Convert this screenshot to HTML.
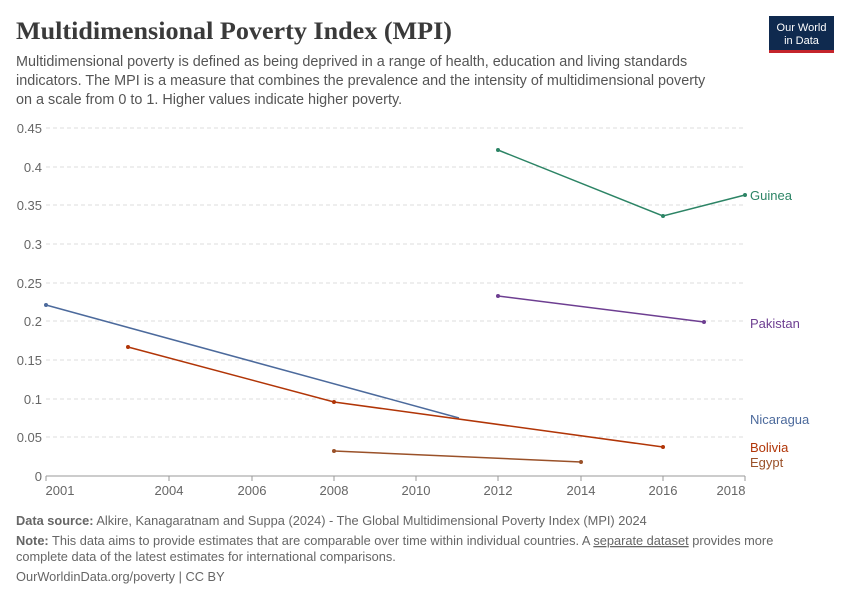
<!DOCTYPE html>
<html><head><meta charset="utf-8"><style>
body{margin:0;background:#fff;width:850px;height:600px;overflow:hidden;font-family:"Liberation Sans",sans-serif}
</style></head><body>
<svg width="850" height="600" viewBox="0 0 850 600" xmlns="http://www.w3.org/2000/svg">
<text x="16" y="39" font-family="Liberation Serif,serif" font-size="25" font-weight="bold" fill="#3a3a3a" textLength="436" lengthAdjust="spacingAndGlyphs">Multidimensional Poverty Index (MPI)</text>
<rect x="769" y="16" width="65" height="34" fill="#0f2a4f"/>
<rect x="769" y="50" width="65" height="3" fill="#c4242b"/>
<text x="801.5" y="31" text-anchor="middle" font-size="11" fill="#fff">Our World</text>
<text x="801.5" y="44" text-anchor="middle" font-size="11" fill="#fff">in Data</text>
<g font-size="14.4" fill="#555">
<text x="16" y="66">Multidimensional poverty is defined as being deprived in a range of health, education and living standards</text>
<text x="16" y="85">indicators. The MPI is a measure that combines the prevalence and the intensity of multidimensional poverty</text>
<text x="16" y="104">on a scale from 0 to 1. Higher values indicate higher poverty.</text>
</g>
<g stroke="#ddd" stroke-dasharray="4,3">
<line x1="46" x2="745" y1="128" y2="128"/><line x1="46" x2="745" y1="167" y2="167"/>
<line x1="46" x2="745" y1="205" y2="205"/><line x1="46" x2="745" y1="244" y2="244"/>
<line x1="46" x2="745" y1="283" y2="283"/><line x1="46" x2="745" y1="321" y2="321"/>
<line x1="46" x2="745" y1="360" y2="360"/><line x1="46" x2="745" y1="399" y2="399"/>
<line x1="46" x2="745" y1="437" y2="437"/>
</g>
<line x1="46" x2="745" y1="476" y2="476" stroke="#999"/>
<g font-size="13" fill="#666" text-anchor="end">
<text x="42" y="133">0.45</text><text x="42" y="172">0.4</text><text x="42" y="210">0.35</text>
<text x="42" y="249">0.3</text><text x="42" y="288">0.25</text><text x="42" y="326">0.2</text>
<text x="42" y="365">0.15</text><text x="42" y="404">0.1</text><text x="42" y="442">0.05</text>
<text x="42" y="481">0</text>
</g>
<g stroke="#999"><line x1="46" x2="46" y1="476" y2="481"/><line x1="169" x2="169" y1="476" y2="481"/><line x1="252" x2="252" y1="476" y2="481"/><line x1="334" x2="334" y1="476" y2="481"/><line x1="416" x2="416" y1="476" y2="481"/><line x1="498" x2="498" y1="476" y2="481"/><line x1="581" x2="581" y1="476" y2="481"/><line x1="663" x2="663" y1="476" y2="481"/><line x1="745" x2="745" y1="476" y2="481"/></g>
<g font-size="13" fill="#666" text-anchor="middle">
<text x="60" y="495">2001</text><text x="169" y="495">2004</text><text x="252" y="495">2006</text>
<text x="334" y="495">2008</text><text x="416" y="495">2010</text><text x="498" y="495">2012</text>
<text x="581" y="495">2014</text><text x="663" y="495">2016</text><text x="731" y="495">2018</text>
</g>
<g fill="none" stroke-width="1.5">
<polyline points="498,150 663,216 745,195" stroke="#2c8465"/>
<polyline points="498,296 704,322" stroke="#6d3e91"/>
<polyline points="46,305 459,418" stroke="#4c6a9c"/>
<polyline points="128,347 334,402 663,447" stroke="#b13507"/>
<polyline points="334,451 581,462" stroke="#9a5129"/>
</g>
<g>
<circle cx="498" cy="150" r="2" fill="#2c8465"/><circle cx="663" cy="216" r="2" fill="#2c8465"/><circle cx="745" cy="195" r="2" fill="#2c8465"/>
<circle cx="498" cy="296" r="2" fill="#6d3e91"/><circle cx="704" cy="322" r="2" fill="#6d3e91"/>
<circle cx="46" cy="305" r="2" fill="#4c6a9c"/>
<circle cx="128" cy="347" r="2" fill="#b13507"/><circle cx="334" cy="402" r="2" fill="#b13507"/><circle cx="663" cy="447" r="2" fill="#b13507"/>
<circle cx="334" cy="451" r="2" fill="#9a5129"/><circle cx="581" cy="462" r="2" fill="#9a5129"/>
</g>
<g font-size="13">
<text x="750" y="200" fill="#2c8465">Guinea</text>
<text x="750" y="328" fill="#6d3e91">Pakistan</text>
<text x="750" y="424" fill="#4c6a9c">Nicaragua</text>
<text x="750" y="452" fill="#b13507">Bolivia</text>
<text x="750" y="467" fill="#9a5129">Egypt</text>
</g>
<g font-size="12.8" fill="#666">
<text x="16" y="525"><tspan font-weight="bold">Data source:</tspan> Alkire, Kanagaratnam and Suppa (2024) - The Global Multidimensional Poverty Index (MPI) 2024</text>
<text x="16" y="545"><tspan font-weight="bold">Note:</tspan> This data aims to provide estimates that are comparable over time within individual countries. A <tspan text-decoration="underline">separate dataset</tspan> provides more</text>
<text x="16" y="561">complete data of the latest estimates for international comparisons.</text>
<text x="16" y="581">OurWorldinData.org/poverty | CC BY</text>
</g>
</svg>
</body></html>
